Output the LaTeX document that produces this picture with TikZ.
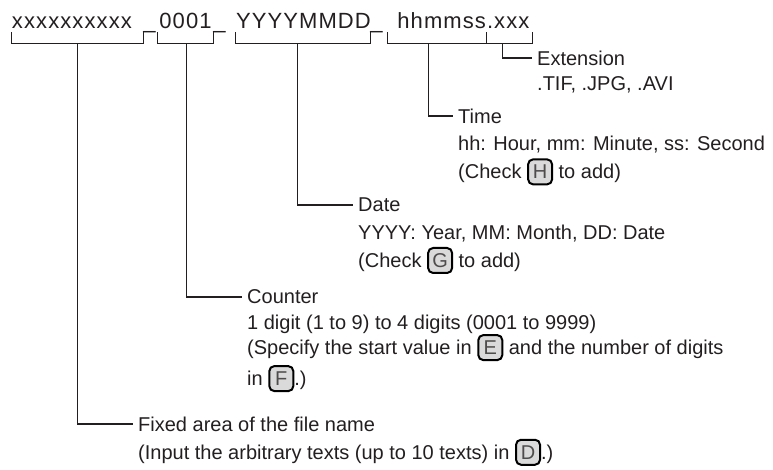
\documentclass[tikz,border=0pt]{standalone}
\usepackage{fontspec}
\setmainfont{Liberation Sans}
\newfontfamily\namefont[LetterSpace=5]{Liberation Sans}
\usetikzlibrary{positioning,calc}

\definecolor{ink}{HTML}{231F20}
\definecolor{keyfill}{HTML}{DADADA}
\setlength{\lineskip}{4pt}
\setlength{\lineskiplimit}{0pt}

\tikzset{
  keycap/.style={draw=black, line width=2pt, fill=keyfill, rounded corners=5pt,
    minimum width=24pt, minimum height=25pt, inner sep=0pt, text=ink!80,
    font=\fontsize{20}{24}\selectfont},
}
\newcommand{\keycap}[1]{\tikz[baseline=(k.base)]\node[keycap] (k) {#1};}
\newcommand{\topstrut}{\rule{0pt}{18pt}}

\begin{document}
\begin{tikzpicture}[
  x=1pt, y=-1pt,
  every node/.style={text=ink},
  seg/.style={font=\namefont\fontsize{22}{24}\selectfont, inner sep=0pt, text depth=0pt, anchor=base, text width=#1, align=center},
  ttl/.style={font=\fontsize{20}{25}\selectfont, inner xsep=5pt, inner ysep=0pt, anchor=west},
  desc/.style={font=\fontsize{20}{25}\selectfont, align=left, inner xsep=5pt, inner ysep=0pt, anchor=north west},
  bracket/.style={draw=ink, line width=1.2pt},
  lead/.style={draw=ink, line width=1.2pt},
]
\useasboundingbox (0,0) rectangle (773,469);

% the file name, one node per part
\node[seg=131pt, align=left] (name) at (77.5,28) {xxxxxxxxxx};
\node[seg=55pt] (cnt) at (185.5,28) {0001};
\node[seg=134pt] (date) at (303,28) {YYYYMMDD};
\node[seg=98pt, align=right] (time) at (437,28) {hhmmss};
\node[seg=45pt, align=left] (ext) at (509.5,28) {.xxx};
\node[seg=12pt, anchor=base west, align=left] (us1) at (name.base east) {\_};
\node[seg=12pt, anchor=base west, align=left] (us2) at (cnt.base east) {\_};
\node[seg=12pt, anchor=base west, align=left] (us3) at (date.base east) {\_};

\foreach \s in {name,cnt,date,time,ext}
  \draw[bracket] ([yshift=-4pt]\s.south west) -- ++(0,11) -| ([yshift=-4pt]\s.south east);

% where the leads leave the brackets
\coordinate (nameleg) at ([xshift=66pt,yshift=-15pt]name.south west);
\coordinate (cntleg) at ([xshift=29pt,yshift=-15pt]cnt.south west);
\coordinate (dateleg) at ([xshift=62pt,yshift=-15pt]date.south west);
\coordinate (timeleg) at ([xshift=41pt,yshift=-15pt]time.south west);
\coordinate (extleg) at ([xshift=16pt,yshift=-15pt]ext.south west);

% explanations
\node[ttl] (extT) at (532,58) {Extension};
\node[desc] (extD) at ([yshift=-7pt]extT.south west) {\topstrut.TIF, .JPG, .AVI};

\node[ttl] (timeT) at (453,116) {Time};
\node[desc] (timeD) at ([yshift=-9pt]timeT.south west) {\topstrut hh: Hour, mm: Minute, ss: Second\\[3pt](Check \keycap{H} to add)};

\node[ttl] (dateT) at (353,205) {Date};
\node[desc] (dateD) at ([yshift=-9pt]dateT.south west) {\topstrut YYYY: Year, MM: Month, DD: Date\\[3pt](Check \keycap{G} to add)};

\node[ttl] (cntT) at (242,297) {Counter};
\node[desc] (cntD) at ([yshift=-7pt]cntT.south west) {\topstrut 1 digit (1 to 9) to 4 digits (0001 to 9999)\\(Specify the start value in \keycap{E} and the number of digits\\in \keycap{F}.)};

\node[ttl] (nameT) at (133,424) {Fixed area of the file name};
\node[desc] (nameD) at ([yshift=-7pt]nameT.south west) {\topstrut(Input the arbitrary texts (up to 10 texts) in \keycap{D}.)};

\draw[lead] (extleg) |- (extT.west);
\draw[lead] (timeleg) |- (timeT.west);
\draw[lead] (dateleg) |- (dateT.west);
\draw[lead] (cntleg) |- (cntT.west);
\draw[lead] (nameleg) |- (nameT.west);
\end{tikzpicture}
\end{document}
